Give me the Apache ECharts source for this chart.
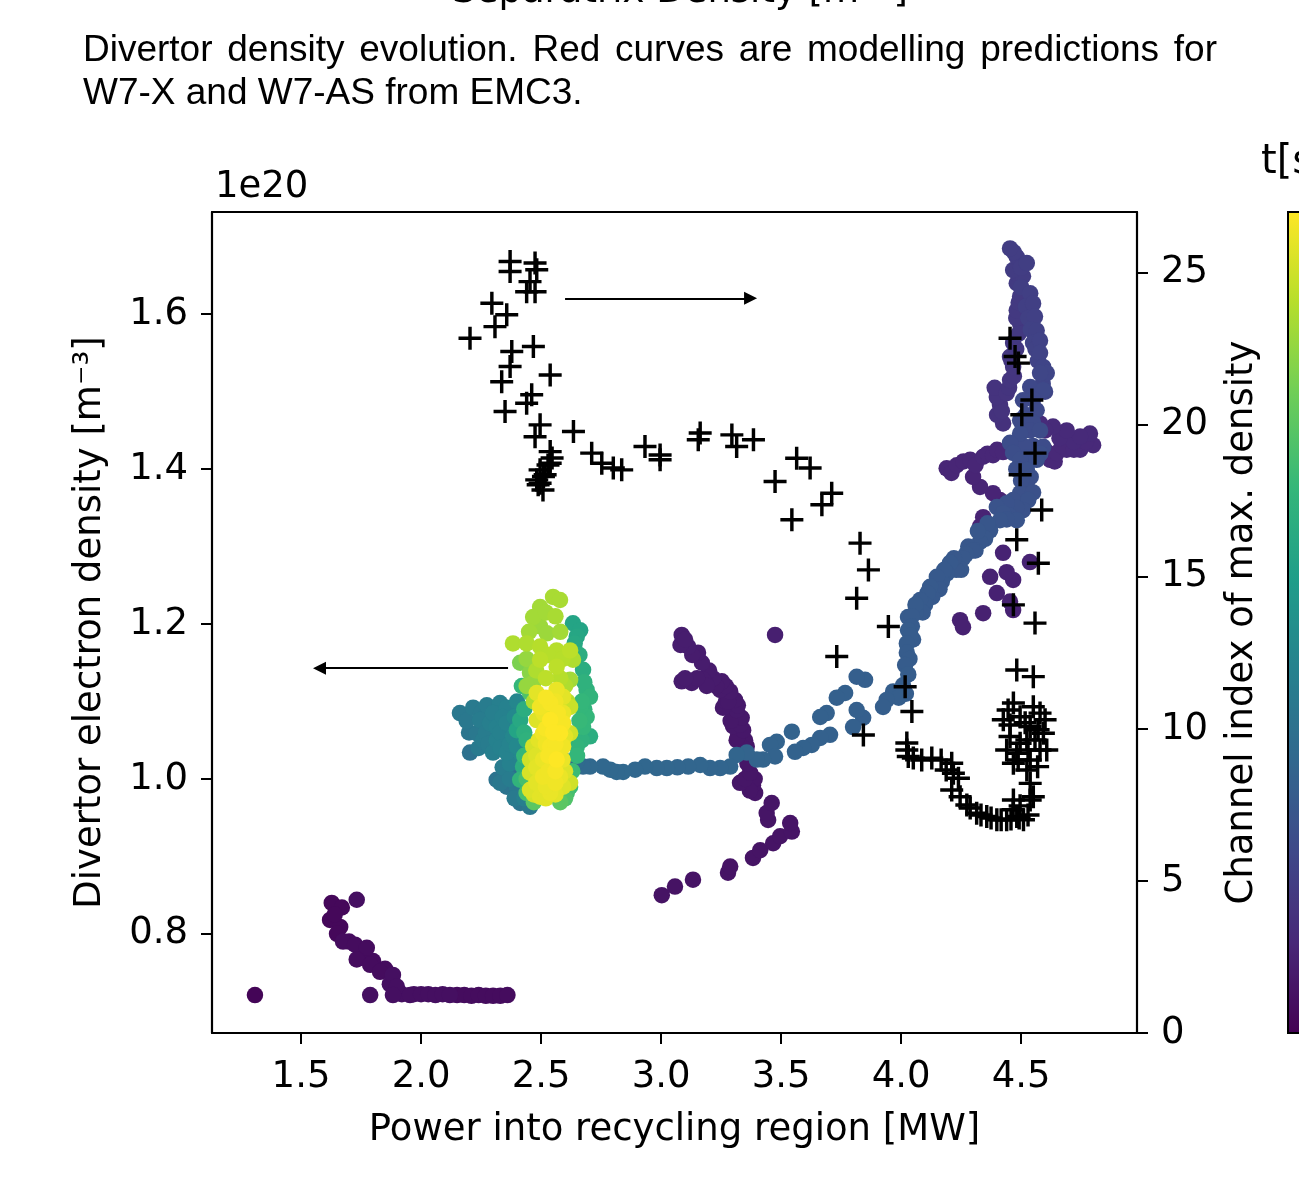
<!DOCTYPE html>
<html><head><meta charset="utf-8">
<script src="https://cdn.jsdelivr.net/npm/echarts@6/dist/echarts.min.js"></script>
<style>html,body{margin:0;padding:0;background:#fff;overflow:hidden}#main{width:1299px;height:1179px}</style>
</head><body><div id="main"></div>
<script>
// ---------- tick labels / texts ----------
const xTicks = [1.5, 2.0, 2.5, 3.0, 3.5, 4.0, 4.5];
const densityTicks = [0.8, 1.0, 1.2, 1.4, 1.6];
const channelTicks = [0, 5, 10, 15, 20, 25];
const captionLine1 = "Divertor density evolution. Red curves are modelling predictions for";
const captionLine2 = "W7-X and W7-AS from EMC3.";
const topCutText = "Separatrix Density [m\u207B\u00B3]";

// ---------- dots: [power MW, divertor density 1e20 m^-3, t (relative colour)] ----------
const earlyRamp = [
 [1.308,0.721,0.01],[1.628,0.840,0.02],[1.670,0.834,0.02],[1.621,0.818,0.02],[1.663,0.809,0.02],
 [1.640,0.825,0.02],[1.650,0.800,0.02],[1.700,0.790,0.03],[1.750,0.775,0.03],[1.800,0.765,0.03],
 [1.850,0.755,0.03],[1.870,0.735,0.04],[1.920,0.722,0.04],[1.970,0.722,0.04],
 [1.675,0.790,0.03],[1.725,0.786,0.03],[1.774,0.782,0.03],[1.732,0.767,0.03],[1.788,0.760,0.03],
 [1.829,0.751,0.03],[1.883,0.747,0.04],[1.899,0.732,0.04],[1.883,0.721,0.04],[1.954,0.721,0.04],
 [2.00,0.722,0.04],[2.03,0.722,0.04],[2.06,0.721,0.04],[2.09,0.722,0.04],[2.12,0.721,0.04],
 [2.15,0.721,0.03],[2.18,0.721,0.03],[2.21,0.720,0.03],[2.24,0.721,0.03],[2.27,0.720,0.03],
 [2.30,0.720,0.03],[2.33,0.720,0.03],[2.36,0.721,0.03],[1.732,0.844,0.04],[1.788,0.721,0.04]
];
const purpleArc = [
 [3.003,0.850,0.050],[3.058,0.861,0.050],[3.133,0.870,0.051],[3.279,0.879,0.052],[3.288,0.887,0.052],
 [3.383,0.898,0.053],[3.413,0.908,0.053],[3.467,0.917,0.054],[3.496,0.926,0.054],[3.545,0.932,0.055],
 [3.538,0.943,0.055],[3.446,0.947,0.056],[3.440,0.956,0.056],[3.461,0.969,0.057],[3.392,0.982,0.058],
 [3.383,0.992,0.058],[3.329,0.995,0.059],[3.371,1.008,0.060],[3.378,1.025,0.061],[3.350,1.030,0.061],
 [3.357,1.042,0.062],[3.315,1.050,0.063],[3.342,1.063,0.064],[3.300,1.068,0.065],[3.336,1.079,0.066],
 [3.315,1.089,0.067],[3.258,1.092,0.068],[3.308,1.102,0.069],[3.270,1.100,0.069],[3.288,1.113,0.070],
 [3.246,1.115,0.071],[3.253,1.126,0.072],[3.217,1.130,0.073],[3.200,1.140,0.074],[3.175,1.128,0.074],
 [3.128,1.124,0.075],[3.086,1.126,0.076],[3.170,1.150,0.077],[3.154,1.163,0.078],[3.113,1.171,0.079],
 [3.081,1.173,0.080],[3.086,1.186,0.080],[3.475,1.186,0.085],
 [3.100,1.180,0.080],[3.130,1.160,0.078],[3.100,1.130,0.076],[3.150,1.130,0.075],[3.190,1.120,0.074],
 [3.230,1.120,0.072],[3.270,1.120,0.071],[3.280,1.100,0.069],[3.320,1.095,0.067],[3.290,1.075,0.066],
 [3.330,1.070,0.065],[3.320,1.055,0.063],[3.350,1.050,0.062],[3.340,1.040,0.062],[3.360,1.020,0.061],
 [3.350,1.000,0.059],[3.390,1.000,0.058],[3.370,0.985,0.058]
];
const loopPhase = [
 [4.246,1.205,0.090],[4.258,1.196,0.090],[4.342,1.214,0.091],[4.399,1.240,0.092],[4.467,1.218,0.092],
 [4.454,1.229,0.093],[4.371,1.261,0.094],[4.467,1.257,0.095],[4.440,1.267,0.095],[4.425,1.292,0.096],
 [4.537,1.280,0.097],[4.329,1.326,0.098],[4.342,1.338,0.099],[4.412,1.360,0.100],[4.383,1.369,0.101],
 [4.329,1.377,0.102],[4.300,1.390,0.103],[4.190,1.401,0.104],[4.232,1.405,0.105],[4.288,1.412,0.106],
 [4.342,1.416,0.107],[4.383,1.418,0.108],[4.425,1.422,0.109],[4.621,1.412,0.112],[4.649,1.421,0.113],
 [4.690,1.425,0.114],[4.746,1.425,0.115],[4.800,1.431,0.116],[4.787,1.446,0.117],[4.746,1.442,0.118],
 [4.690,1.450,0.119],[4.633,1.455,0.120],[4.579,1.459,0.121],
 [4.210,1.395,0.104],[4.260,1.410,0.105],[4.310,1.405,0.106],[4.360,1.420,0.107],[4.400,1.425,0.108],
 [4.600,1.450,0.120],[4.660,1.440,0.118],[4.720,1.435,0.117],[4.770,1.435,0.116],[4.670,1.430,0.114],
 [4.720,1.425,0.115],[4.600,1.425,0.112],[4.640,1.410,0.112]
];
const columnUp = [
 [4.425,1.459,0.140],[4.412,1.483,0.145],[4.399,1.493,0.148],[4.440,1.498,0.150],[4.454,1.515,0.155],
 [4.467,1.532,0.158],[4.454,1.545,0.160],[4.467,1.563,0.163],[4.496,1.588,0.166],[4.482,1.605,0.170],
 [4.496,1.623,0.172],[4.482,1.640,0.175],[4.508,1.649,0.177],[4.467,1.657,0.178],[4.482,1.674,0.180],
 [4.454,1.685,0.182],[4.524,1.666,0.184],[4.538,1.627,0.187],[4.550,1.614,0.190],[4.558,1.597,0.193],
 [4.565,1.579,0.196],[4.550,1.563,0.198],[4.579,1.566,0.200],[4.579,1.550,0.203],[4.592,1.532,0.206],
 [4.607,1.524,0.209],[4.579,1.524,0.212],
 [4.470,1.680,0.181],[4.500,1.660,0.183],[4.490,1.650,0.176],[4.500,1.635,0.186],[4.520,1.610,0.188],
 [4.490,1.615,0.171],[4.530,1.595,0.192],[4.480,1.595,0.169],[4.540,1.580,0.195],[4.490,1.575,0.167],
 [4.560,1.555,0.199],[4.480,1.555,0.162],[4.570,1.540,0.202],[4.460,1.540,0.159],[4.590,1.510,0.208],
 [4.470,1.520,0.156],[4.600,1.500,0.210],[4.450,1.505,0.152],[4.420,1.475,0.147],[4.400,1.470,0.146],
 [4.390,1.505,0.149]
];
const columnDown = [
 [4.538,1.506,0.220],[4.592,1.502,0.222],[4.508,1.489,0.224],[4.565,1.476,0.226],[4.496,1.463,0.228],
 [4.538,1.450,0.230],[4.579,1.450,0.232],[4.592,1.429,0.234],[4.496,1.446,0.236],[4.454,1.434,0.238],
 [4.467,1.421,0.240],[4.496,1.412,0.242],[4.565,1.412,0.244],[4.524,1.399,0.246],[4.524,1.382,0.248],
 [4.496,1.369,0.250],[4.467,1.360,0.252],[4.508,1.347,0.254],[4.440,1.356,0.256],[4.399,1.351,0.258],
 [4.425,1.343,0.260],[4.482,1.334,0.262],[4.412,1.334,0.264],
 [4.550,1.490,0.223],[4.520,1.470,0.227],[4.550,1.460,0.229],[4.510,1.430,0.235],[4.550,1.430,0.233],
 [4.580,1.420,0.243],[4.530,1.415,0.241],[4.480,1.400,0.245],[4.540,1.390,0.247],[4.500,1.385,0.249],
 [4.550,1.370,0.250],[4.480,1.350,0.255],[4.530,1.360,0.253],[4.450,1.340,0.259],[4.440,1.335,0.263]
];
const diagonalBranch = [
 [4.371,1.321,0.270],[4.350,1.310,0.271],[4.329,1.306,0.272],[4.280,1.300,0.273],[4.300,1.295,0.274],
 [4.258,1.285,0.276],[4.230,1.270,0.277],[4.204,1.279,0.278],[4.190,1.265,0.279],[4.170,1.255,0.279],
 [4.149,1.261,0.280],[4.121,1.248,0.282],[4.100,1.225,0.283],[4.079,1.231,0.284],[4.060,1.215,0.285],
 [4.029,1.209,0.286],[4.045,1.197,0.288],[4.029,1.192,0.289],[4.040,1.185,0.289],[4.024,1.175,0.290],
 [4.024,1.163,0.291],[4.017,1.147,0.292],[4.008,1.121,0.294],[3.967,1.113,0.296],[3.940,1.102,0.297],
 [3.925,1.093,0.298],[3.850,1.128,0.300],[3.815,1.132,0.301],[3.842,1.079,0.302],[3.815,1.089,0.303],
 [3.800,1.067,0.304],[3.767,1.111,0.305],[3.732,1.105,0.306],[3.690,1.085,0.307],[3.663,1.080,0.308],
 [3.704,1.057,0.309],[3.663,1.053,0.310],[3.628,1.044,0.311],[3.592,1.040,0.312],[3.558,1.035,0.313],
 [3.545,1.061,0.314],[3.482,1.048,0.315],[3.454,1.044,0.316],[3.475,1.029,0.317],[3.425,1.025,0.318],
 [3.399,1.025,0.319],[3.357,1.034,0.320],[3.315,1.031,0.321],
 [4.360,1.330,0.270],[4.320,1.320,0.272],[4.310,1.295,0.273],[4.270,1.290,0.275],[4.250,1.270,0.276],
 [4.220,1.285,0.277],[4.180,1.270,0.279],[4.160,1.245,0.280],[4.130,1.235,0.281],[4.110,1.240,0.282],
 [4.090,1.215,0.284],[4.060,1.225,0.285],[4.045,1.210,0.286],[4.050,1.180,0.288],[4.035,1.155,0.291],
 [4.030,1.135,0.293],[4.020,1.110,0.295],[3.990,1.105,0.296]
];
const flatBranch = [
 [3.288,1.016,0.322],[3.246,1.014,0.323],[3.204,1.014,0.324],[3.163,1.018,0.325],[3.113,1.016,0.326],
 [3.068,1.015,0.327],[3.024,1.014,0.328],[2.982,1.014,0.329],[2.933,1.016,0.330],[2.892,1.012,0.331],
 [2.842,1.009,0.332],[2.815,1.009,0.333],[2.788,1.012,0.334],[2.758,1.016,0.335],[2.704,1.016,0.336],
 [2.675,1.016,0.338],[2.649,1.022,0.340],[2.592,1.025,0.345]
];
const clusterTeal = [
 [2.383,1.016,0.36],[2.315,0.999,0.38],[2.357,0.990,0.38],[2.413,0.969,0.39],[2.454,0.964,0.40],
 [2.399,0.990,0.40],[2.204,1.034,0.37],[2.162,1.085,0.40],[2.217,1.092,0.41],[2.274,1.095,0.42],
 [2.329,1.098,0.43],[2.357,1.092,0.44],[2.246,1.076,0.42],[2.288,1.072,0.43],[2.232,1.059,0.40],
 [2.315,1.067,0.44],[2.357,1.072,0.45],[2.258,1.050,0.42],[2.315,1.050,0.44],[2.383,1.055,0.46],
 [2.300,1.034,0.43],[2.357,1.034,0.45],[2.399,1.042,0.47],
 [2.190,1.075,0.40],[2.200,1.060,0.39],[2.250,1.085,0.41],[2.270,1.060,0.42],[2.300,1.085,0.43],
 [2.340,1.080,0.44],[2.330,1.060,0.44],[2.280,1.045,0.42],[2.240,1.040,0.41],[2.330,1.040,0.44],
 [2.370,1.045,0.45],[2.370,1.020,0.44],[2.340,1.015,0.42],[2.330,0.995,0.40],[2.370,1.000,0.42],
 [2.390,0.975,0.41],[2.430,0.975,0.43],[2.420,1.030,0.46],[2.400,1.100,0.46],[2.390,1.080,0.47]
];
const clusterGreen = [
 [2.633,1.201,0.58],[2.663,1.192,0.58],[2.649,1.184,0.59],[2.675,1.141,0.62],[2.690,1.115,0.64],
 [2.704,1.106,0.65],[2.690,1.080,0.66],[2.704,1.055,0.62],[2.675,1.067,0.66],[2.413,1.076,0.60],
 [2.399,1.063,0.58],[2.425,1.016,0.62],[2.413,0.999,0.65],[2.440,0.982,0.70],[2.607,0.982,0.70],
 [2.621,0.990,0.68],[2.454,1.111,0.72],[2.467,1.145,0.75],[2.663,1.093,0.66],[2.649,1.042,0.65],
 [2.640,1.175,0.60],[2.660,1.160,0.62],[2.680,1.125,0.64],[2.670,1.100,0.66],[2.680,1.090,0.65],
 [2.660,1.075,0.67],[2.670,1.050,0.64],[2.650,1.030,0.66],[2.630,1.010,0.68],[2.600,0.975,0.72],
 [2.580,0.970,0.74],[2.430,1.090,0.62],[2.420,1.120,0.66],[2.440,1.050,0.64],[2.430,1.030,0.66],
 [2.440,1.000,0.70],[2.470,0.970,0.74],[2.430,1.060,0.63]
];
const clusterLime = [
 [2.550,1.235,0.87],[2.579,1.231,0.87],[2.496,1.222,0.86],[2.467,1.209,0.86],[2.496,1.197,0.85],
 [2.524,1.188,0.85],[2.383,1.175,0.88],[2.440,1.175,0.88],[2.496,1.171,0.89],[2.565,1.166,0.89],
 [2.621,1.166,0.90],[2.633,1.154,0.88],[2.413,1.150,0.80],[2.454,1.137,0.82],[2.496,1.154,0.90],
 [2.565,1.145,0.90],[2.621,1.128,0.86],[2.467,1.124,0.84],
 [2.520,1.215,0.86],[2.560,1.210,0.87],[2.580,1.190,0.86],[2.450,1.190,0.86],[2.530,1.160,0.89],
 [2.590,1.155,0.89],[2.440,1.155,0.84],[2.480,1.140,0.88],[2.520,1.130,0.90],[2.580,1.130,0.89],
 [2.600,1.120,0.88],[2.440,1.120,0.84],[2.470,1.100,0.88],[2.610,1.100,0.89]
];
const clusterYellow = [
 [2.482,1.111,0.96],[2.565,1.115,0.97],[2.592,1.106,0.96],[2.538,1.098,0.99],[2.496,1.093,0.98],
 [2.592,1.085,0.97],[2.621,1.093,0.92],[2.482,1.076,0.95],[2.538,1.076,1.00],[2.592,1.072,0.99],
 [2.508,1.059,0.98],[2.579,1.059,1.00],[2.621,1.059,0.93],[2.467,1.042,0.94],[2.538,1.042,0.99],
 [2.592,1.042,0.98],[2.454,1.025,0.93],[2.508,1.025,0.97],[2.565,1.025,1.00],[2.454,1.008,0.94],
 [2.508,1.003,0.98],[2.579,1.003,0.97],[2.621,0.995,0.93],[2.454,0.986,0.95],[2.496,0.977,0.96],
 [2.538,0.982,0.97],[2.592,0.990,0.95],
 [2.520,1.105,0.99],[2.560,1.100,0.98],[2.510,1.085,0.97],[2.570,1.085,0.99],[2.520,1.065,0.99],
 [2.550,1.060,1.00],[2.600,1.055,0.96],[2.490,1.050,0.96],[2.520,1.045,0.98],[2.560,1.045,0.99],
 [2.480,1.030,0.95],[2.530,1.030,0.99],[2.590,1.025,0.97],[2.480,1.015,0.96],[2.530,1.010,0.98],
 [2.560,1.010,0.99],[2.600,1.010,0.95],[2.480,0.995,0.96],[2.520,0.990,0.97],[2.560,0.995,0.98],
 [2.470,0.980,0.94],[2.520,0.975,0.96],[2.560,0.980,0.96]
];

// ---------- crosses: [power MW, channel index of max. density] ----------
const channelEarly = [
 [2.371,25.37],[2.371,25.04],[2.475,25.32],[2.482,25.10],[2.454,24.71],[2.440,24.38],[2.475,24.38],
 [2.295,24.00],[2.357,23.62],[2.308,23.23],[2.204,22.85],[2.378,22.41],[2.468,22.58],[2.371,21.92],
 [2.336,21.42],[2.538,21.64],[2.461,20.99],[2.440,20.71],[2.350,20.44],[2.496,20.00],[2.475,19.61],
 [2.538,19.12],[2.538,18.74],[2.510,18.30],[2.496,18.08],[2.482,18.19],[2.496,18.52],[2.517,18.36],
 [2.488,18.03],[2.508,17.86],[2.529,18.68],[2.546,18.91]
];
const channelArc = [
 [2.635,19.78],[2.711,19.07],[2.753,18.74],[2.801,18.58],[2.836,18.52],[2.933,19.29],[2.996,19.01],
 [2.996,18.85],[3.163,19.73],[3.155,19.51],[3.295,19.67],[3.315,19.29],[3.385,19.51],[3.475,18.14],
 [3.565,18.90],[3.621,18.58],[3.545,16.88],[3.670,17.37],[3.711,17.75],[3.829,16.11],[3.864,15.23],
 [3.815,14.30],[3.947,13.37],[3.732,12.38],[3.843,9.80],[4.017,11.39],[4.045,10.57]
];
const channelColumn = [
 [4.454,22.85],[4.475,22.25],[4.489,22.03],[4.545,20.82],[4.503,20.33],[4.558,19.07],[4.496,18.36],
 [4.586,17.20],[4.482,16.22],[4.572,15.45],[4.468,14.08],[4.558,13.48],[4.482,11.94],[4.551,11.72]
];
const channelLate = [
 [4.468,10.85],[4.426,10.30],[4.454,9.75],[4.496,10.40],[4.551,10.73],[4.579,10.52],[4.538,10.08],
 [4.593,9.86],[4.524,9.64],[4.579,9.31],[4.482,9.20],[4.468,8.87],[4.538,8.98],[4.607,9.31],
 [4.569,8.76],[4.496,9.53],[4.440,9.31],[4.446,10.62],[4.517,10.20],[4.558,9.64],[4.488,8.98],
 [4.600,10.30],[4.529,9.31],[4.454,10.13],[4.571,9.97],
 [4.024,9.54],[4.024,9.31],[4.030,9.09],[4.051,9.04],[4.086,8.98],[4.128,9.04],[4.167,8.98],
 [4.188,8.65],[4.211,8.87],[4.218,8.54],[4.239,8.38],[4.211,7.99],[4.246,7.77],[4.274,7.50],
 [4.288,7.40],[4.315,7.23],[4.333,7.17],[4.357,7.12],[4.375,7.07],[4.399,7.01],[4.417,7.01],
 [4.440,7.01],[4.458,7.04],[4.482,7.12],[4.492,7.07],[4.510,7.01],[4.529,7.17],[4.468,7.66],
 [4.467,7.34],[4.496,7.47],[4.538,7.66],[4.538,8.21],[4.551,7.77],[4.524,8.65]
];

// ---------- arrows (data coords on left axis): [[x0,y0],[x1,y1]] ----------
const arrowToRight = [[2.60, 1.6206], [3.373, 1.6206]];
const arrowToLeft = [[2.3625, 1.143], [1.577, 1.143]];

const viridis = ['#440154','#482878','#3e4989','#31688e','#26828e','#1f9e89','#35b779','#6ece58','#b5de2b','#fde725'];

const dots = [].concat(earlyRamp, purpleArc, loopPhase, columnUp, columnDown,
  diagonalBranch, flatBranch, clusterTeal, clusterGreen, clusterLime, clusterYellow)
  .slice().sort((a, b) => a[2] - b[2]);
const crosses = [].concat(channelEarly, channelArc, channelColumn, channelLate);

// ---------- layout ----------
const L = 212, R = 1137, T = 212, B = 1033, W = 1299, H = 1179;
const tickFont = 'DejaVu Sans';
const fs = 37;
const plusPath = 'path://M8.5,0H11.5V8.5H20V11.5H11.5V20H8.5V11.5H0V8.5H8.5Z';

// caption: justify first line
const capFont = '37px "Liberation Sans"';
const mctx = document.createElement('canvas').getContext('2d');
mctx.font = capFont;
const capWords = captionLine1.split(' ');
const capW = capWords.map(w => mctx.measureText(w).width);
const capGap = (1217 - 83 - capW.reduce((a, b) => a + b, 0)) / (capWords.length - 1);
const graphics = [];
let cx = 83;
capWords.forEach((w, i) => {
  graphics.push({type:'text', x:cx, y:51, style:{text:w, font:capFont, fill:'#000', align:'left', verticalAlign:'middle', textAlign:'left', textVerticalAlign:'middle'}});
  cx += capW[i] + capGap;
});
graphics.push({type:'text', x:83, y:94, style:{text:captionLine2, font:capFont, fill:'#000', align:'left', verticalAlign:'middle', textAlign:'left', textVerticalAlign:'middle'}});
graphics.push({type:'text', x:680, y:11, style:{text:topCutText, font:'37px "DejaVu Sans"', fill:'#000', align:'center', verticalAlign:'bottom', textAlign:'center', textVerticalAlign:'bottom'}});
graphics.push({type:'text', x:215, y:187, style:{text:'1e20', font:'37px "DejaVu Sans"', fill:'#000', align:'left', verticalAlign:'middle', textAlign:'left', textVerticalAlign:'middle'}});
graphics.push({type:'text', x:1261, y:163, style:{text:'t[s]', font:'40px "DejaVu Sans"', fill:'#000', align:'left', verticalAlign:'middle', textAlign:'left', textVerticalAlign:'middle'}});
graphics.push({type:'rect', z:100, shape:{x:1288, y:T, width:40, height:B - T}, style:{fill:'none', stroke:'#000', lineWidth:2}});

const axisLineStyle = {color:'#000', width:2.2};
const labelStyle = {fontFamily:tickFont, fontSize:fs, color:'#000'};

const chart = echarts.init(document.getElementById('main'), null, {renderer:'canvas', width:W, height:H});
chart.setOption({
  animation:false,
  backgroundColor:'#fff',
  grid:{left:L, right:W - R, top:T, bottom:H - B, containLabel:false},
  graphic:{elements:graphics},
  xAxis:[{
    type:'value', min:1.129, max:4.983, position:'bottom',
    axisLine:{show:true, onZero:false, lineStyle:axisLineStyle},
    axisTick:{show:true, length:11, lineStyle:{color:'#000', width:2}, customValues:xTicks},
    axisLabel:{customValues:xTicks, margin:26, formatter:v => v.toFixed(1), ...labelStyle},
    splitLine:{show:false},
    name:'Power into recycling region [MW]', nameLocation:'middle', nameGap:79,
    nameTextStyle:{fontFamily:tickFont, fontSize:fs, color:'#000'}
  },{
    type:'value', min:1.129, max:4.983, position:'top',
    axisLine:{show:true, onZero:false, lineStyle:axisLineStyle},
    axisTick:{show:false}, axisLabel:{show:false}, splitLine:{show:false}
  }],
  yAxis:[{
    type:'value', min:0.672, max:1.732, position:'left',
    axisLine:{show:true, onZero:false, lineStyle:axisLineStyle},
    axisTick:{show:true, length:11, lineStyle:{color:'#000', width:2}, customValues:densityTicks},
    axisLabel:{customValues:densityTicks, margin:24, formatter:v => v.toFixed(1), ...labelStyle},
    splitLine:{show:false},
    name:'Divertor electron density [m\u207B\u00B3]', nameLocation:'middle', nameGap:103, nameRotate:90,
    nameTextStyle:{fontFamily:tickFont, fontSize:fs, color:'#000'}
  },{
    type:'value', min:0, max:27, position:'right',
    axisLine:{show:true, onZero:false, lineStyle:axisLineStyle},
    axisTick:{show:true, length:11, lineStyle:{color:'#000', width:2}, customValues:channelTicks},
    axisLabel:{customValues:channelTicks, margin:24, ...labelStyle},
    splitLine:{show:false},
    name:'Channel index of max. density', nameLocation:'middle', nameGap:87, nameRotate:90,
    nameTextStyle:{fontFamily:tickFont, fontSize:fs, color:'#000'}
  }],
  visualMap:{
    type:'continuous', min:0, max:1, dimension:2, seriesIndex:0,
    inRange:{color:viridis}, calculable:false, show:true,
    left:1288, top:T, itemWidth:40, itemHeight:B - T, padding:0, text:null
  },
  series:[{
    type:'scatter', xAxisIndex:0, yAxisIndex:0, data:dots, symbol:'circle', symbolSize:16.5, z:2,
    itemStyle:{opacity:1}
  },{
    type:'scatter', xAxisIndex:0, yAxisIndex:1, data:crosses, symbol:plusPath, symbolSize:23, z:3,
    itemStyle:{color:'#000', opacity:1}
  },{
    type:'lines', coordinateSystem:'cartesian2d', xAxisIndex:0, yAxisIndex:0, z:4,
    symbol:['none','triangle'], symbolSize:13,
    lineStyle:{color:'#000', width:2.2, opacity:1},
    data:[{coords:arrowToRight}, {coords:arrowToLeft}]
  }]
});
</script>
</body></html>
